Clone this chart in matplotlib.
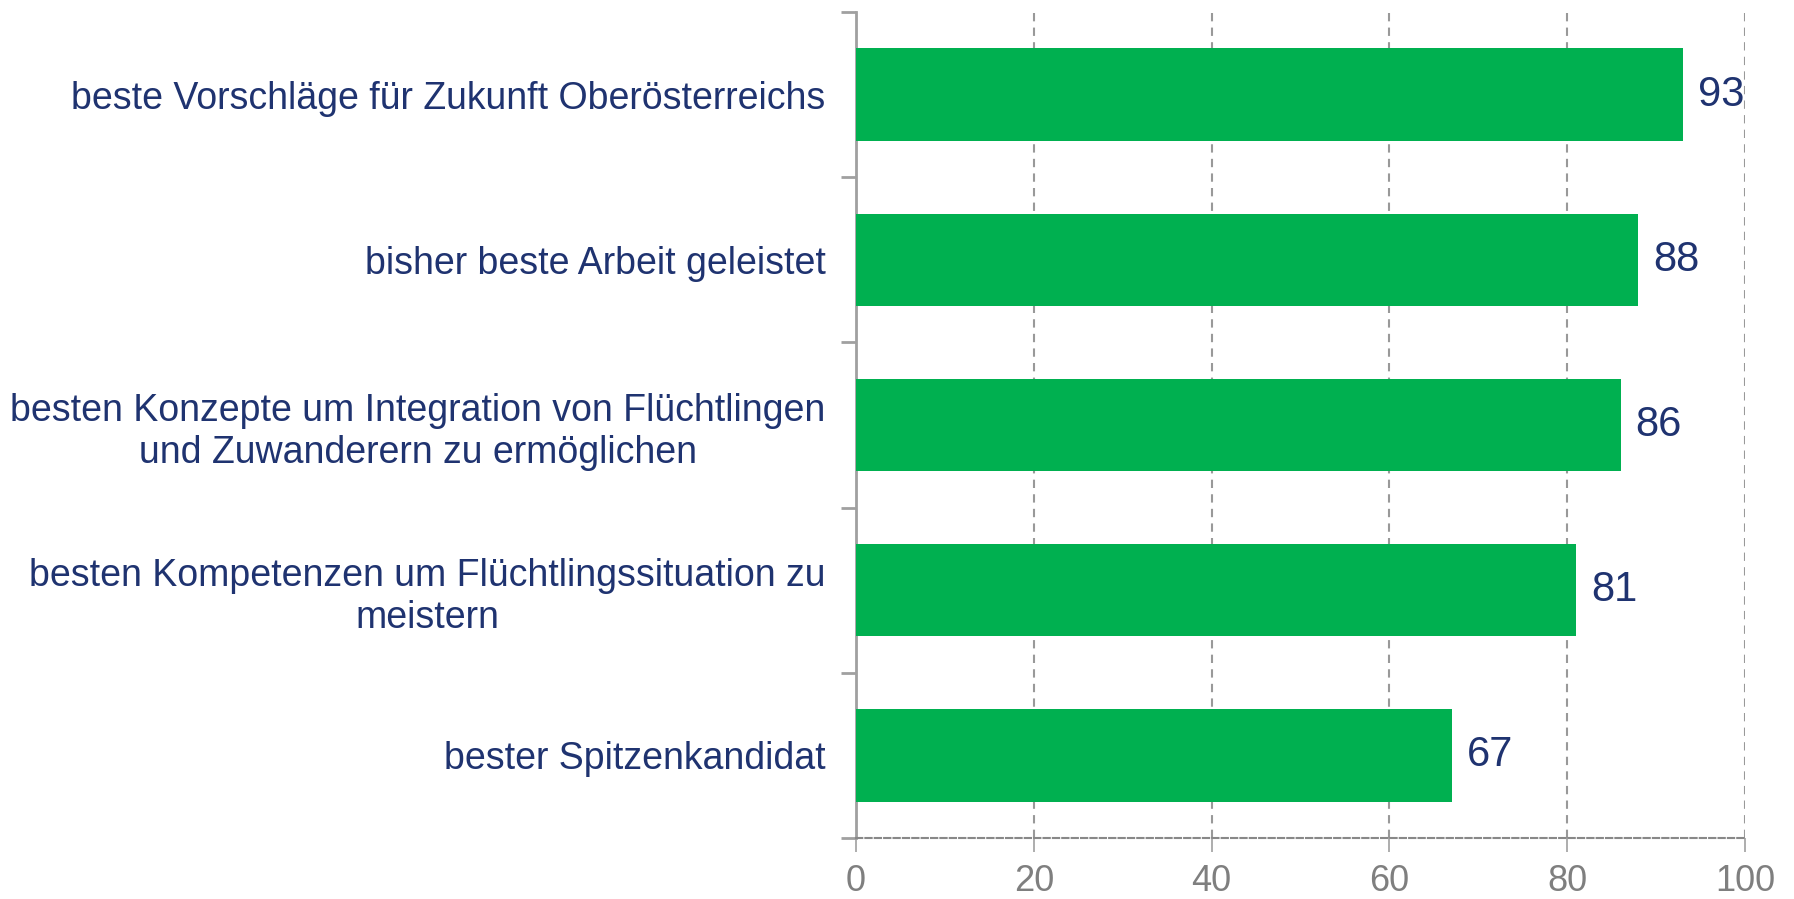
import matplotlib.pyplot as plt
import numpy as np

plt.rcParams['font.family'] = ['Liberation Sans', 'DejaVu Sans']

categories = [
    "beste Vorschläge für Zukunft Oberösterreichs",
    "bisher beste Arbeit geleistet",
    "besten Konzepte um Integration von Flüchtlingen\nund Zuwanderern zu ermöglichen",
    "besten Kompetenzen um Flüchtlingssituation zu\nmeistern",
    "bester Spitzenkandidat",
]
values = [93, 88, 86, 81, 67]
xticks = [0, 20, 40, 60, 80, 100]

green = "#00B050"
navy = "#1F3370"
grey = "#7F7F7F"
line_grey = "#A0A0A0"

fig = plt.figure(figsize=(17.94, 8.99), dpi=100)
ax = fig.add_axes([0.4772, 0.0679, 0.4955, 0.9188])

# top category first
y = np.arange(len(categories))[::-1]
ax.barh(y, values, height=0.56, color=green, zorder=3)

for yi, v in zip(y, values):
    ax.text(v + 1.7, yi, str(v), va='center', ha='left', fontsize=30, color=navy, zorder=4)

ax.set_xlim(0, 100)
ax.set_ylim(-0.5, len(categories) - 0.5)

ax.set_xticks(xticks)
ax.set_xticklabels([str(t) for t in xticks], fontsize=26, color=grey)
ax.tick_params(axis='x', direction='out', length=10, width=1.2, color=line_grey, pad=9)

# category labels on major ticks, boundary marks on minor ticks
ax.set_yticks(y)
ax.set_yticklabels(categories, fontsize=27, color=navy, multialignment='center')
ax.tick_params(axis='y', which='major', length=0, pad=22)
ax.set_yticks(np.arange(-0.5, len(categories), 1.0), minor=True)
ax.tick_params(axis='y', which='minor', direction='out', length=11, width=2, color=line_grey)

ax.grid(axis='x', linestyle=(0, (4, 3)), color="#999999", linewidth=1.5, zorder=0)
ax.grid(axis='y', visible=False)

for side in ['top', 'right']:
    ax.spines[side].set_visible(False)
ax.spines['left'].set_color(line_grey)
ax.spines['left'].set_linewidth(2)
ax.spines['bottom'].set_color("#888888")
ax.spines['bottom'].set_linestyle((0, (3, 1.5)))
ax.spines['bottom'].set_linewidth(1.5)

fig.savefig("out.png", dpi=100)
